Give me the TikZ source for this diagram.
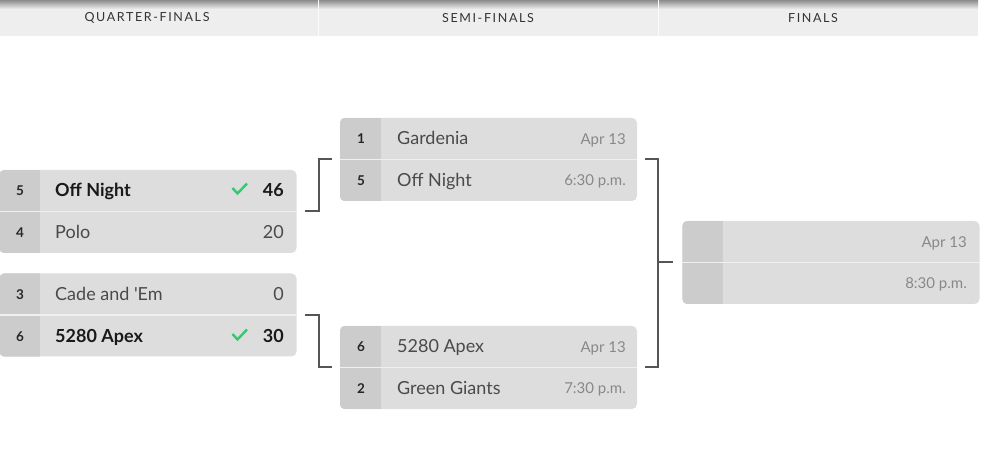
\documentclass[tikz,border=0pt]{standalone}
\usepackage{fontspec}
\setmainfont{Lato}
\usetikzlibrary{calc}

\definecolor{boxgray}{HTML}{DDDDDD}
\definecolor{seedgray}{HTML}{CCCCCC}
\definecolor{headgray}{HTML}{EEEEEE}
\definecolor{linegray}{HTML}{555555}
\definecolor{namegray}{HTML}{4A4A4A}
\definecolor{dategray}{HTML}{888888}
\definecolor{checkgreen}{HTML}{2ECC71}

\tikzset{
  matchbox/.style={rectangle, rounded corners=5, fill=boxgray, minimum width=297,
    minimum height=83, inner sep=0},
  roundlbl/.style={font=\fontsize{12.5}{12.5}\selectfont\addfontfeatures{LetterSpace=13}, text=black!80},
  seed/.style={anchor=base, font=\bfseries\fontsize{13.5}{13.5}\selectfont, text=black!85},
  team/.style={anchor=base west, font=\fontsize{18}{18}\selectfont, text=namegray, inner sep=0},
  winner/.style={team, font=\bfseries\fontsize{18}{18}\selectfont, text=black!90},
  score/.style={anchor=base east, font=\fontsize{18}{18}\selectfont, text=namegray, inner sep=0},
  topscore/.style={score, font=\bfseries\fontsize{18}{18}\selectfont, text=black!90},
  date/.style={anchor=base east, font=\fontsize{15}{15}\selectfont, text=dategray, inner sep=0},
  bracket/.style={linegray, line width=2},
  tick/.style={checkgreen, line width=2.4}
}

% darker seed column and row divider of a match box
\newcommand{\seedcol}[1]{%
  \begin{scope}
    \clip[rounded corners=5] (#1.north west) rectangle (#1.south east);
    \fill[seedgray] (#1.north west) rectangle ($(#1.south west)+(41,0)$);
  \end{scope}
  \draw[white!55!boxgray, line width=1.2] (#1.west) -- (#1.east);}

\begin{document}
\begin{tikzpicture}[x=1pt, y=-1pt]
  \useasboundingbox (0,0) rectangle (983,462);

  % header
  \fill[headgray] (0,0) rectangle (978,36);
  \shade[top color=black!45, bottom color=headgray] (0,0) rectangle (978,9);
  \draw[white!70!headgray, line width=1] (318,0) -- (318,36);
  \draw[white!70!headgray, line width=1] (658,0) -- (658,36);
  \node[roundlbl] (hqf) at (147,18) {QUARTER-FINALS};
  \node[roundlbl] (hsf) at (488,18) {SEMI-FINALS};
  \node[roundlbl] (hfin) at (813,18) {FINALS};

  % boxes
  \node[matchbox] (qf1) at (148,211.5) {};
  \node[matchbox] (qf2) at (148,315) {};
  \node[matchbox] (sf1) at (488.5,159.5) {};
  \node[matchbox] (sf2) at (488.5,367.5) {};
  \node[matchbox] (fin) at (831,262.5) {};
  \foreach \m in {qf1,qf2,sf1,sf2,fin}{\seedcol{\m}}

  % quarter-finals
  \node[seed] (qf1a) at (20,196) {5};
  \node[winner] (qf1an) at (55,197) {Off Night};
  \node[topscore] (qf1as) at (284,197) {46};
  \node[seed] (qf1b) at (20,237.5) {4};
  \node[team] (qf1bn) at (55,238.5) {Polo};
  \node[score] (qf1bs) at (284,238.5) {20};
  \draw[tick] (232.5,188) -- (237.5,193.5) -- (247,183.5);

  \node[seed] (qf2a) at (20,299.5) {3};
  \node[team] (qf2an) at (55,300.5) {Cade and \textquotesingle Em};
  \node[score] (qf2as) at (284,300.5) {0};
  \node[seed] (qf2b) at (20,341.5) {6};
  \node[winner] (qf2bn) at (55,342.5) {5280 Apex};
  \node[topscore] (qf2bs) at (284,342.5) {30};
  \draw[tick] (232.5,334) -- (237.5,339.5) -- (247,329.5);

  % semi-finals
  \node[seed] (sf1a) at (361,144) {1};
  \node[team] (sf1an) at (397,145) {Gardenia};
  \node[date] (sf1d) at (626,144.5) {Apr 13};
  \node[seed] (sf1b) at (361,185.5) {5};
  \node[team] (sf1bn) at (397,186.5) {Off Night};
  \node[date] (sf1t) at (626,186) {6:30 p.m.};

  \node[seed] (sf2a) at (361,352) {6};
  \node[team] (sf2an) at (397,353) {5280 Apex};
  \node[date] (sf2d) at (626,352.5) {Apr 13};
  \node[seed] (sf2b) at (361,393.5) {2};
  \node[team] (sf2bn) at (397,394.5) {Green Giants};
  \node[date] (sf2t) at (626,394) {7:30 p.m.};

  % final
  \node[date] (find) at (967,247.5) {Apr 13};
  \node[date] (fint) at (967,289) {8:30 p.m.};

  % brackets
  \draw[bracket] ($(qf1.east)+(8,0)$) -- ++(14,0) |- ($(sf1.west)+(-8,0)$);
  \draw[bracket] ($(qf2.east)+(8,0)$) -- ++(14,0) |- ($(sf2.west)+(-8,0)$);
  \draw[bracket] ($(sf1.east)+(8,0)$) -- ++(13,0) coordinate (join) |- ($(sf2.east)+(8,0)$);
  \draw[bracket] (join |- fin.west) -- ($(fin.west)+(-9,0)$);
\end{tikzpicture}
\end{document}
